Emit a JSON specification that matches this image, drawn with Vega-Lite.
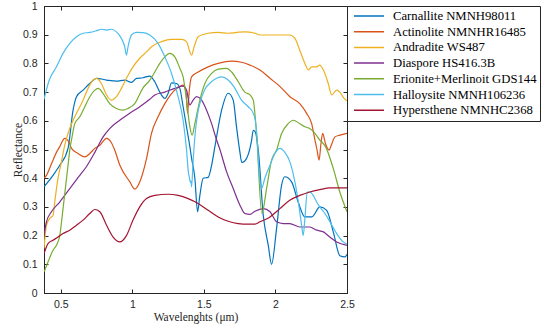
{
"$schema": "https://vega.github.io/schema/vega-lite/v6.json",
"width": 303, "height": 287,
"autosize": {"type": "none"},
"padding": {"left": 44, "top": 6, "right": 199, "bottom": 40},
"background": "white",
"config": {"view": {"stroke": "#262626", "strokeWidth": 1}, "font": "Liberation Sans"},
"datasets": {
"names": [
{"k":"C","name":"Carnallite NMNH98011"},{"k":"A","name":"Actinolite NMNHR16485"},{"k":"D","name":"Andradite WS487"},{"k":"P","name":"Diaspore HS416.3B"},{"k":"E","name":"Erionite+Merlinoit GDS144"},{"k":"L","name":"Halloysite NMNH106236"},{"k":"H","name":"Hypersthene NMNHC2368"}],
"pts": [
{"k":"C","x":0.383,"y":0.37},{"k":"C","x":0.446,"y":0.41},{"k":"C","x":0.493,"y":0.445},{"k":"C","x":0.551,"y":0.504},{"k":"C","x":0.586,"y":0.637},{"k":"C","x":0.61,"y":0.684},{"k":"C","x":0.656,"y":0.707},{"k":"C","x":0.703,"y":0.73},{"k":"C","x":0.75,"y":0.748},{"k":"C","x":0.82,"y":0.742},{"k":"C","x":0.889,"y":0.738},{"k":"C","x":0.947,"y":0.742},{"k":"C","x":0.994,"y":0.734},{"k":"C","x":1.029,"y":0.748},{"k":"C","x":1.075,"y":0.75},{"k":"C","x":1.122,"y":0.756},{"k":"C","x":1.157,"y":0.736},{"k":"C","x":1.192,"y":0.70},{"k":"C","x":1.227,"y":0.678},{"k":"C","x":1.25,"y":0.695},{"k":"C","x":1.274,"y":0.732},{"k":"C","x":1.309,"y":0.73},{"k":"C","x":1.332,"y":0.713},{"k":"C","x":1.355,"y":0.649},{"k":"C","x":1.379,"y":0.579},{"k":"C","x":1.402,"y":0.51},{"k":"C","x":1.414,"y":0.47},{"k":"C","x":1.437,"y":0.40},{"k":"C","x":1.456,"y":0.283},{"k":"C","x":1.472,"y":0.34},{"k":"C","x":1.495,"y":0.40},{"k":"C","x":1.53,"y":0.403},{"k":"C","x":1.554,"y":0.445},{"k":"C","x":1.577,"y":0.51},{"k":"C","x":1.624,"y":0.637},{"k":"C","x":1.67,"y":0.696},{"k":"C","x":1.705,"y":0.672},{"k":"C","x":1.728,"y":0.579},{"k":"C","x":1.752,"y":0.49},{"k":"C","x":1.765,"y":0.455},{"k":"C","x":1.786,"y":0.46},{"k":"C","x":1.833,"y":0.53},{"k":"C","x":1.845,"y":0.567},{"k":"C","x":1.86,"y":0.56},{"k":"C","x":1.88,"y":0.498},{"k":"C","x":1.915,"y":0.27},{"k":"C","x":1.95,"y":0.166},{"k":"C","x":1.973,"y":0.10},{"k":"C","x":2.008,"y":0.225},{"k":"C","x":2.043,"y":0.376},{"k":"C","x":2.066,"y":0.405},{"k":"C","x":2.113,"y":0.387},{"k":"C","x":2.159,"y":0.317},{"k":"C","x":2.206,"y":0.265},{"k":"C","x":2.253,"y":0.265},{"k":"C","x":2.311,"y":0.30},{"k":"C","x":2.358,"y":0.288},{"k":"C","x":2.404,"y":0.213},{"k":"C","x":2.45,"y":0.13},{"k":"C","x":2.486,"y":0.126},{"k":"C","x":2.5,"y":0.135},
{"k":"A","x":0.383,"y":0.40},{"k":"A","x":0.4,"y":0.41},{"k":"A","x":0.435,"y":0.45},{"k":"A","x":0.47,"y":0.49},{"k":"A","x":0.493,"y":0.51},{"k":"A","x":0.528,"y":0.539},{"k":"A","x":0.563,"y":0.52},{"k":"A","x":0.575,"y":0.504},{"k":"A","x":0.621,"y":0.486},{"k":"A","x":0.668,"y":0.474},{"k":"A","x":0.703,"y":0.486},{"k":"A","x":0.738,"y":0.504},{"k":"A","x":0.773,"y":0.515},{"k":"A","x":0.82,"y":0.539},{"k":"A","x":0.85,"y":0.527},{"k":"A","x":0.877,"y":0.498},{"k":"A","x":0.913,"y":0.445},{"k":"A","x":0.983,"y":0.387},{"k":"A","x":1.017,"y":0.362},{"k":"A","x":1.052,"y":0.387},{"k":"A","x":1.1,"y":0.47},{"k":"A","x":1.134,"y":0.556},{"k":"A","x":1.18,"y":0.614},{"k":"A","x":1.227,"y":0.66},{"k":"A","x":1.274,"y":0.695},{"k":"A","x":1.32,"y":0.716},{"k":"A","x":1.355,"y":0.724},{"k":"A","x":1.375,"y":0.70},{"k":"A","x":1.386,"y":0.626},{"k":"A","x":1.397,"y":0.70},{"k":"A","x":1.414,"y":0.753},{"k":"A","x":1.46,"y":0.77},{"k":"A","x":1.53,"y":0.788},{"k":"A","x":1.6,"y":0.80},{"k":"A","x":1.694,"y":0.808},{"k":"A","x":1.763,"y":0.804},{"k":"A","x":1.822,"y":0.794},{"k":"A","x":1.892,"y":0.777},{"k":"A","x":1.962,"y":0.748},{"k":"A","x":2.031,"y":0.72},{"k":"A","x":2.101,"y":0.684},{"k":"A","x":2.17,"y":0.66},{"k":"A","x":2.218,"y":0.626},{"k":"A","x":2.253,"y":0.59},{"k":"A","x":2.276,"y":0.533},{"k":"A","x":2.29,"y":0.50},{"k":"A","x":2.305,"y":0.463},{"k":"A","x":2.318,"y":0.52},{"k":"A","x":2.33,"y":0.556},{"k":"A","x":2.35,"y":0.52},{"k":"A","x":2.375,"y":0.498},{"k":"A","x":2.39,"y":0.515},{"k":"A","x":2.416,"y":0.544},{"k":"A","x":2.45,"y":0.55},{"k":"A","x":2.5,"y":0.556},
{"k":"D","x":0.383,"y":0.155},{"k":"D","x":0.4,"y":0.236},{"k":"D","x":0.423,"y":0.26},{"k":"D","x":0.446,"y":0.27},{"k":"D","x":0.458,"y":0.317},{"k":"D","x":0.481,"y":0.40},{"k":"D","x":0.505,"y":0.457},{"k":"D","x":0.528,"y":0.515},{"k":"D","x":0.551,"y":0.556},{"k":"D","x":0.586,"y":0.602},{"k":"D","x":0.621,"y":0.637},{"k":"D","x":0.656,"y":0.672},{"k":"D","x":0.691,"y":0.713},{"k":"D","x":0.726,"y":0.742},{"k":"D","x":0.75,"y":0.748},{"k":"D","x":0.784,"y":0.73},{"k":"D","x":0.82,"y":0.69},{"k":"D","x":0.854,"y":0.672},{"k":"D","x":0.889,"y":0.684},{"k":"D","x":0.924,"y":0.713},{"k":"D","x":0.959,"y":0.748},{"k":"D","x":1.005,"y":0.788},{"k":"D","x":1.052,"y":0.818},{"k":"D","x":1.099,"y":0.84},{"k":"D","x":1.134,"y":0.858},{"k":"D","x":1.204,"y":0.876},{"k":"D","x":1.274,"y":0.884},{"k":"D","x":1.344,"y":0.884},{"k":"D","x":1.379,"y":0.876},{"k":"D","x":1.402,"y":0.84},{"k":"D","x":1.414,"y":0.829},{"k":"D","x":1.432,"y":0.858},{"k":"D","x":1.46,"y":0.893},{"k":"D","x":1.53,"y":0.905},{"k":"D","x":1.6,"y":0.908},{"k":"D","x":1.67,"y":0.905},{"k":"D","x":1.73,"y":0.908},{"k":"D","x":1.787,"y":0.91},{"k":"D","x":1.857,"y":0.905},{"k":"D","x":1.892,"y":0.899},{"k":"D","x":1.962,"y":0.899},{"k":"D","x":2.03,"y":0.899},{"k":"D","x":2.1,"y":0.899},{"k":"D","x":2.136,"y":0.887},{"k":"D","x":2.17,"y":0.846},{"k":"D","x":2.206,"y":0.80},{"k":"D","x":2.23,"y":0.777},{"k":"D","x":2.253,"y":0.788},{"k":"D","x":2.288,"y":0.788},{"k":"D","x":2.31,"y":0.794},{"k":"D","x":2.335,"y":0.777},{"k":"D","x":2.369,"y":0.73},{"k":"D","x":2.393,"y":0.69},{"k":"D","x":2.428,"y":0.707},{"k":"D","x":2.45,"y":0.70},{"k":"D","x":2.48,"y":0.678},{"k":"D","x":2.5,"y":0.67},
{"k":"P","x":0.383,"y":0.20},{"k":"P","x":0.4,"y":0.248},{"k":"P","x":0.435,"y":0.283},{"k":"P","x":0.493,"y":0.317},{"k":"P","x":0.563,"y":0.364},{"k":"P","x":0.633,"y":0.41},{"k":"P","x":0.679,"y":0.44},{"k":"P","x":0.738,"y":0.49},{"k":"P","x":0.796,"y":0.544},{"k":"P","x":0.842,"y":0.573},{"k":"P","x":0.912,"y":0.602},{"k":"P","x":0.982,"y":0.626},{"k":"P","x":1.052,"y":0.649},{"k":"P","x":1.122,"y":0.675},{"k":"P","x":1.157,"y":0.69},{"k":"P","x":1.227,"y":0.70},{"k":"P","x":1.297,"y":0.713},{"k":"P","x":1.355,"y":0.721},{"k":"P","x":1.379,"y":0.707},{"k":"P","x":1.402,"y":0.655},{"k":"P","x":1.425,"y":0.672},{"k":"P","x":1.449,"y":0.684},{"k":"P","x":1.484,"y":0.672},{"k":"P","x":1.519,"y":0.637},{"k":"P","x":1.554,"y":0.59},{"k":"P","x":1.589,"y":0.533},{"k":"P","x":1.612,"y":0.50},{"k":"P","x":1.659,"y":0.422},{"k":"P","x":1.705,"y":0.364},{"k":"P","x":1.752,"y":0.306},{"k":"P","x":1.786,"y":0.277},{"k":"P","x":1.822,"y":0.274},{"k":"P","x":1.857,"y":0.285},{"k":"P","x":1.915,"y":0.294},{"k":"P","x":1.962,"y":0.283},{"k":"P","x":2.008,"y":0.248},{"k":"P","x":2.054,"y":0.242},{"k":"P","x":2.1,"y":0.242},{"k":"P","x":2.17,"y":0.23},{"k":"P","x":2.24,"y":0.23},{"k":"P","x":2.288,"y":0.219},{"k":"P","x":2.335,"y":0.213},{"k":"P","x":2.38,"y":0.195},{"k":"P","x":2.428,"y":0.178},{"k":"P","x":2.5,"y":0.166},
{"k":"E","x":0.383,"y":0.073},{"k":"E","x":0.411,"y":0.108},{"k":"E","x":0.446,"y":0.149},{"k":"E","x":0.47,"y":0.166},{"k":"E","x":0.493,"y":0.20},{"k":"E","x":0.516,"y":0.294},{"k":"E","x":0.535,"y":0.376},{"k":"E","x":0.551,"y":0.445},{"k":"E","x":0.568,"y":0.515},{"k":"E","x":0.575,"y":0.533},{"k":"E","x":0.598,"y":0.59},{"k":"E","x":0.633,"y":0.614},{"k":"E","x":0.668,"y":0.649},{"k":"E","x":0.703,"y":0.684},{"k":"E","x":0.738,"y":0.707},{"k":"E","x":0.761,"y":0.713},{"k":"E","x":0.796,"y":0.695},{"k":"E","x":0.842,"y":0.66},{"k":"E","x":0.889,"y":0.643},{"k":"E","x":0.935,"y":0.637},{"k":"E","x":0.97,"y":0.643},{"k":"E","x":1.017,"y":0.66},{"k":"E","x":1.075,"y":0.715},{"k":"E","x":1.12,"y":0.74},{"k":"E","x":1.157,"y":0.77},{"k":"E","x":1.192,"y":0.80},{"k":"E","x":1.227,"y":0.823},{"k":"E","x":1.262,"y":0.835},{"k":"E","x":1.297,"y":0.823},{"k":"E","x":1.332,"y":0.783},{"k":"E","x":1.355,"y":0.753},{"k":"E","x":1.379,"y":0.672},{"k":"E","x":1.402,"y":0.579},{"k":"E","x":1.418,"y":0.55},{"k":"E","x":1.437,"y":0.59},{"k":"E","x":1.472,"y":0.672},{"k":"E","x":1.507,"y":0.73},{"k":"E","x":1.554,"y":0.765},{"k":"E","x":1.6,"y":0.78},{"k":"E","x":1.659,"y":0.783},{"k":"E","x":1.694,"y":0.77},{"k":"E","x":1.74,"y":0.736},{"k":"E","x":1.786,"y":0.70},{"k":"E","x":1.822,"y":0.69},{"k":"E","x":1.845,"y":0.672},{"k":"E","x":1.868,"y":0.556},{"k":"E","x":1.905,"y":0.277},{"k":"E","x":1.94,"y":0.37},{"k":"E","x":1.973,"y":0.463},{"k":"E","x":2.008,"y":0.498},{"k":"E","x":2.043,"y":0.556},{"k":"E","x":2.089,"y":0.59},{"k":"E","x":2.124,"y":0.602},{"k":"E","x":2.17,"y":0.59},{"k":"E","x":2.206,"y":0.579},{"k":"E","x":2.24,"y":0.573},{"k":"E","x":2.276,"y":0.556},{"k":"E","x":2.31,"y":0.533},{"k":"E","x":2.35,"y":0.51},{"k":"E","x":2.404,"y":0.434},{"k":"E","x":2.45,"y":0.352},{"k":"E","x":2.5,"y":0.283},
{"k":"L","x":0.383,"y":0.675},{"k":"L","x":0.42,"y":0.742},{"k":"L","x":0.47,"y":0.788},{"k":"L","x":0.516,"y":0.835},{"k":"L","x":0.563,"y":0.87},{"k":"L","x":0.61,"y":0.893},{"k":"L","x":0.656,"y":0.905},{"k":"L","x":0.703,"y":0.908},{"k":"L","x":0.75,"y":0.914},{"k":"L","x":0.784,"y":0.919},{"k":"L","x":0.82,"y":0.916},{"k":"L","x":0.854,"y":0.919},{"k":"L","x":0.889,"y":0.91},{"k":"L","x":0.924,"y":0.887},{"k":"L","x":0.947,"y":0.858},{"k":"L","x":0.959,"y":0.829},{"k":"L","x":0.97,"y":0.858},{"k":"L","x":0.994,"y":0.899},{"k":"L","x":1.029,"y":0.908},{"k":"L","x":1.075,"y":0.907},{"k":"L","x":1.122,"y":0.899},{"k":"L","x":1.18,"y":0.87},{"k":"L","x":1.227,"y":0.823},{"k":"L","x":1.274,"y":0.765},{"k":"L","x":1.32,"y":0.684},{"k":"L","x":1.355,"y":0.602},{"k":"L","x":1.379,"y":0.498},{"k":"L","x":1.392,"y":0.42},{"k":"L","x":1.40,"y":0.40},{"k":"L","x":1.405,"y":0.385},{"k":"L","x":1.41,"y":0.39},{"k":"L","x":1.414,"y":0.37},{"k":"L","x":1.425,"y":0.46},{"k":"L","x":1.44,"y":0.56},{"k":"L","x":1.455,"y":0.62},{"k":"L","x":1.472,"y":0.66},{"k":"L","x":1.507,"y":0.71},{"k":"L","x":1.54,"y":0.73},{"k":"L","x":1.589,"y":0.748},{"k":"L","x":1.624,"y":0.753},{"k":"L","x":1.67,"y":0.742},{"k":"L","x":1.717,"y":0.713},{"k":"L","x":1.763,"y":0.672},{"k":"L","x":1.81,"y":0.649},{"k":"L","x":1.845,"y":0.626},{"k":"L","x":1.86,"y":0.60},{"k":"L","x":1.873,"y":0.53},{"k":"L","x":1.886,"y":0.422},{"k":"L","x":1.903,"y":0.364},{"k":"L","x":1.926,"y":0.40},{"k":"L","x":1.962,"y":0.445},{"k":"L","x":1.996,"y":0.486},{"k":"L","x":2.031,"y":0.504},{"k":"L","x":2.066,"y":0.49},{"k":"L","x":2.101,"y":0.457},{"k":"L","x":2.136,"y":0.387},{"k":"L","x":2.16,"y":0.317},{"k":"L","x":2.183,"y":0.236},{"k":"L","x":2.194,"y":0.20},{"k":"L","x":2.206,"y":0.26},{"k":"L","x":2.222,"y":0.352},{"k":"L","x":2.24,"y":0.352},{"k":"L","x":2.264,"y":0.34},{"k":"L","x":2.288,"y":0.317},{"k":"L","x":2.31,"y":0.30},{"k":"L","x":2.346,"y":0.277},{"k":"L","x":2.381,"y":0.248},{"k":"L","x":2.428,"y":0.207},{"k":"L","x":2.474,"y":0.178},{"k":"L","x":2.5,"y":0.17},
{"k":"H","x":0.383,"y":0.137},{"k":"H","x":0.411,"y":0.172},{"k":"H","x":0.446,"y":0.184},{"k":"H","x":0.481,"y":0.195},{"k":"H","x":0.516,"y":0.207},{"k":"H","x":0.563,"y":0.219},{"k":"H","x":0.61,"y":0.236},{"k":"H","x":0.656,"y":0.254},{"k":"H","x":0.703,"y":0.277},{"k":"H","x":0.738,"y":0.291},{"k":"H","x":0.773,"y":0.283},{"k":"H","x":0.82,"y":0.236},{"k":"H","x":0.866,"y":0.195},{"k":"H","x":0.912,"y":0.178},{"k":"H","x":0.959,"y":0.20},{"k":"H","x":1.005,"y":0.254},{"k":"H","x":1.052,"y":0.30},{"k":"H","x":1.099,"y":0.329},{"k":"H","x":1.157,"y":0.34},{"k":"H","x":1.25,"y":0.344},{"k":"H","x":1.32,"y":0.34},{"k":"H","x":1.39,"y":0.329},{"k":"H","x":1.46,"y":0.312},{"k":"H","x":1.53,"y":0.288},{"k":"H","x":1.6,"y":0.265},{"k":"H","x":1.67,"y":0.25},{"k":"H","x":1.74,"y":0.242},{"k":"H","x":1.81,"y":0.24},{"k":"H","x":1.857,"y":0.24},{"k":"H","x":1.892,"y":0.248},{"k":"H","x":1.962,"y":0.265},{"k":"H","x":2.031,"y":0.294},{"k":"H","x":2.1,"y":0.323},{"k":"H","x":2.17,"y":0.34},{"k":"H","x":2.24,"y":0.352},{"k":"H","x":2.31,"y":0.36},{"k":"H","x":2.38,"y":0.366},{"k":"H","x":2.45,"y":0.366},{"k":"H","x":2.5,"y":0.366}
]},
"data": {"name": "pts"},
"transform": [{"lookup": "k", "from": {"data": {"name": "names"}, "key": "k", "fields": ["name"]}}],
"layer": [
{"mark": {"type": "line", "strokeWidth": 1.2, "interpolate": "monotone", "clip": true},
 "encoding": {
  "x": {"field": "x", "type": "quantitative", "scale": {"domain": [0.383, 2.5], "nice": false, "zero": false},
   "axis": {"orient": "bottom", "values": [0.5, 1, 1.5, 2, 2.5], "format": "~g", "grid": false, "tickSize": -4, "tickColor": "#262626", "domainColor": "#262626", "labelColor": "#262626", "labelFont": "Liberation Sans", "labelFontSize": 10.5, "labelPadding": 10, "labelFlush": false,
    "title": "Wavelenghts (μm)", "titleFont": "Liberation Serif", "titleFontSize": 11.5, "titleFontWeight": "normal", "titleColor": "#262626", "titleX": 151.5, "titleY": 24, "titleBaseline": "middle", "titleAlign": "center"}},
  "y": {"field": "y", "type": "quantitative", "scale": {"domain": [0, 1], "nice": false},
   "axis": {"orient": "left", "values": [0, 0.1, 0.2, 0.3, 0.4, 0.5, 0.6, 0.7, 0.8, 0.9, 1], "format": "~g", "grid": false, "tickSize": -4, "tickColor": "#262626", "domainColor": "#262626", "labelColor": "#262626", "labelFont": "Liberation Sans", "labelFontSize": 10.5, "labelPadding": 11, "labelFlush": false,
    "title": "Reflectance", "titleFont": "Liberation Serif", "titleFontSize": 11.5, "titleFontWeight": "normal", "titleColor": "#262626", "titleX": -26, "titleY": 143.5, "titleBaseline": "middle", "titleAlign": "center", "titleAngle": 270}},
  "color": {"field": "name", "type": "nominal",
   "scale": {"domain": ["Carnallite NMNH98011", "Actinolite NMNHR16485", "Andradite WS487", "Diaspore HS416.3B", "Erionite+Merlinoit GDS144", "Halloysite NMNH106236", "Hypersthene NMNHC2368"],
    "range": ["#0072BD", "#D95319", "#EDB120", "#7E2F8E", "#77AC30", "#4DBEEE", "#A2142F"]},
   "legend": {"orient": "none", "legendX": 303, "legendY": 0, "title": null, "symbolType": "stroke", "symbolSize": 900, "symbolStrokeWidth": 1.5, "clipHeight": 14, "rowPadding": 1.7, "padding": 3, "labelOffset": 8, "symbolOffset": 3, "labelFont": "Liberation Serif", "labelFontSize": 12.7, "labelColor": "black", "strokeColor": "#262626", "fillColor": "white", "labelLimit": 0}}
 }},
{"mark": {"type": "line", "opacity": 0},
 "encoding": {
  "x": {"field": "x", "type": "quantitative", "axis": {"orient": "top", "values": [0.5, 1, 1.5, 2, 2.5], "labels": false, "title": null, "grid": false, "tickSize": -4, "tickColor": "#262626", "domainColor": "#262626"}},
  "y": {"field": "y", "type": "quantitative", "axis": {"orient": "right", "values": [0, 0.1, 0.2, 0.3, 0.4, 0.5, 0.6, 0.7, 0.8, 0.9, 1], "labels": false, "title": null, "grid": false, "tickSize": -4, "tickColor": "#262626", "domainColor": "#262626"}},
  "detail": {"field": "k"}
 }}
],
"resolve": {"axis": {"x": "independent", "y": "independent"}}
}
